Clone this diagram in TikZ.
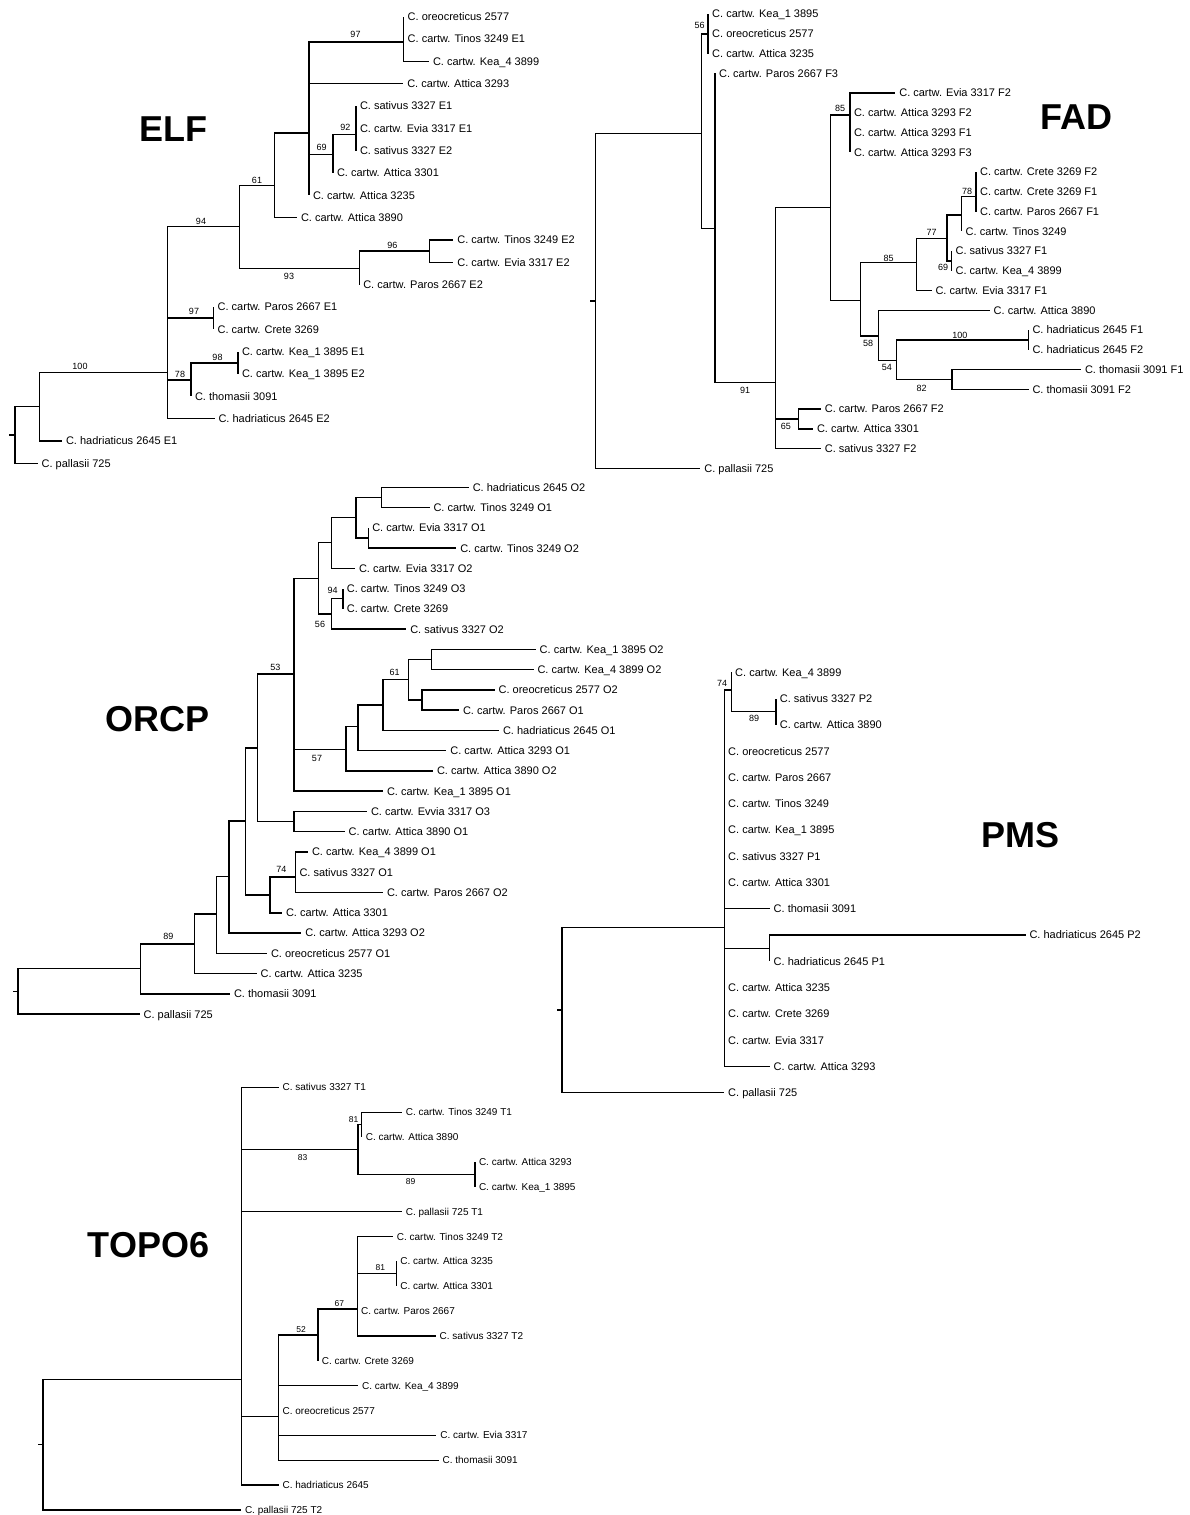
\documentclass[tikz,border=0pt]{standalone}
\usepackage{fontspec}
\setmainfont{Liberation Sans}
\newcommand\labfont{\fontsize{11}{12}\selectfont}
\newcommand\labfontsm{\fontsize{10}{11}\selectfont}
\newcommand\bsfont{\fontsize{9}{10}\selectfont}
\newcommand\bsfontsm{\fontsize{8.5}{9.5}\selectfont}
\newcommand\ttlfont{\fontsize{36}{40}\selectfont\bfseries}
\tikzset{
  br/.style={line width=1.5pt},
  brt/.style={line width=1.2pt},
  lab/.style={anchor=west, inner xsep=4pt, inner ysep=0pt, outer sep=0pt, text height=7.9pt, text depth=0pt, font=\labfont},
  labsm/.style={lab, text height=7.2pt, font=\labfontsm},
  bs/.style={inner sep=0pt, font=\bsfont},
  bssm/.style={inner sep=0pt, font=\bsfontsm},
  ttl/.style={inner sep=0pt, font=\ttlfont},
}
\begin{document}
\begin{tikzpicture}[x=1pt,y=-1pt]
\fill[white] (0,0) rectangle (1189,1515);
\useasboundingbox (0,0) rectangle (1189,1515);

% ================= ELF =================
\node[ttl] (tELF) at (173.5,129.5) {ELF};
\coordinate (eR) at (15,435);
\coordinate (eRt) at (9.4,435);
\coordinate (e100) at (39.5,406.7);
\coordinate (eM) at (167.4,372.7);
\coordinate (e94) at (239.3,226.7);
\coordinate (e61) at (274.6,185.7);
\coordinate (eC) at (309,133);
\coordinate (e97) at (403.7,42);
\coordinate (e69) at (333,154.3);
\coordinate (e92) at (356,134.3);
\coordinate (e93) at (359.3,268.3);
\coordinate (e96) at (429.3,251.2);
\coordinate (e97b) at (213.7,318.2);
\coordinate (e78) at (191,379.8);
\coordinate (e98) at (238,362.8);
\node[lab] (eT0) at (403.7,16.7) {C. oreocreticus 2577};
\node[lab] (eT1) at (403.7,39.0) {C. cartw. Tinos 3249 E1};
\node[lab] (eT2) at (429,61.4) {C. cartw. Kea\_4 3899};
\node[lab] (eT3) at (403.3,83.7) {C. cartw. Attica 3293};
\node[lab] (eT4) at (356,106.0) {C. sativus 3327 E1};
\node[lab] (eT5) at (356,128.4) {C. cartw. Evia 3317 E1};
\node[lab] (eT6) at (356,150.7) {C. sativus 3327 E2};
\node[lab] (eT7) at (333,173.0) {C. cartw. Attica 3301};
\node[lab] (eT8) at (309,195.3) {C. cartw. Attica 3235};
\node[lab] (eT9) at (297,217.7) {C. cartw. Attica 3890};
\node[lab] (eT10) at (453.4,240.0) {C. cartw. Tinos 3249 E2};
\node[lab] (eT11) at (453.4,262.3) {C. cartw. Evia 3317 E2};
\node[lab] (eT12) at (359.3,284.7) {C. cartw. Paros 2667 E2};
\node[lab] (eT13) at (213.7,307.0) {C. cartw. Paros 2667 E1};
\node[lab] (eT14) at (213.7,329.3) {C. cartw. Crete 3269};
\node[lab] (eT15) at (238,351.7) {C. cartw. Kea\_1 3895 E1};
\node[lab] (eT16) at (238,374.0) {C. cartw. Kea\_1 3895 E2};
\node[lab] (eT17) at (191,396.3) {C. thomasii 3091};
\node[lab] (eT18) at (214.5,418.7) {C. hadriaticus 2645 E2};
\node[lab] (eT19) at (62,441.0) {C. hadriaticus 2645 E1};
\node[lab] (eT20) at (37.6,463.3) {C. pallasii 725};
\draw[br] (eR) -- (eRt);
\draw[br] (eR) |- (e100) (eR) |- (eT20.west);
\draw[br] (e100) |- (eM) (e100) |- (eT19.west);
\draw[br] (eM) |- (e94) (eM) |- (e97b) (eM) |- (e78) (eM) |- (eT18.west);
\draw[br] (e94) |- (e61) (e94) |- (e93);
\draw[br] (e61) |- (eC) (e61) |- (eT9.west);
\draw[br] (eC) |- (e97) (eC) |- (eT3.west) (eC) |- (e69) (eC) |- (eT8.west);
\draw[br] (e97) |- (eT0.west) (e97) |- (eT1.west) (e97) |- (eT2.west);
\draw[br] (e69) |- (e92) (e69) |- (eT7.west);
\draw[br] (e92) |- (eT4.west) (e92) |- (eT5.west) (e92) |- (eT6.west);
\draw[br] (e93) |- (e96) (e93) |- (eT12.west);
\draw[br] (e96) |- (eT10.west) (e96) |- (eT11.west);
\draw[br] (e97b) |- (eT13.west) (e97b) |- (eT14.west);
\draw[br] (e78) |- (e98) (e78) |- (eT17.west);
\draw[br] (e98) |- (eT15.west) (e98) |- (eT16.west);
\node[bs] (eb1) at (355.5,34.3) {97};
\node[bs] (eb2) at (345.4,127.7) {92};
\node[bs] (eb3) at (321.7,147.7) {69};
\node[bs] (eb4) at (257,180) {61};
\node[bs] (eb5) at (201,221) {94};
\node[bs] (eb6) at (289,276) {93};
\node[bs] (eb7) at (392.4,245.7) {96};
\node[bs] (eb8) at (194,311.7) {97};
\node[bs] (eb9) at (217.5,357.3) {98};
\node[bs] (eb10) at (180,374) {78};
\node[bs] (eb11) at (80,366.7) {100};

% ================= FAD =================
\node[ttl] (tFAD) at (1076.7,117.5) {FAD};
\coordinate (fR) at (595.5,301);
\coordinate (fRt) at (589.7,301);
\coordinate (fA) at (701.6,133.3);
\coordinate (f56) at (708.2,33.75);
\coordinate (fB) at (715.1,228.3);
\coordinate (f91) at (775.3,382.3);
\coordinate (f65) at (798.3,418.9);
\coordinate (fC) at (830.5,207.3);
\coordinate (f85a) at (850,115);
\coordinate (fD) at (860.4,300.7);
\coordinate (f85b) at (916.3,262.3);
\coordinate (f77) at (947,238.3);
\coordinate (fE) at (961.7,215);
\coordinate (f78) at (976.1,196.7);
\coordinate (f69) at (951.6,260.9);
\coordinate (f58) at (878.3,336);
\coordinate (f54) at (896.5,360.7);
\coordinate (f100) at (1028.5,339.9);
\coordinate (f82) at (952,379.4);
\node[lab] (fT0) at (708.2,14.0) {C. cartw. Kea\_1 3895};
\node[lab] (fT1) at (708.2,33.75) {C. oreocreticus 2577};
\node[lab] (fT2) at (708.2,53.5) {C. cartw. Attica 3235};
\node[lab] (fT3) at (715.1,73.25) {C. cartw. Paros 2667 F3};
\node[lab] (fT4) at (895.3,93.0) {C. cartw. Evia 3317 F2};
\node[lab] (fT5) at (850,112.75) {C. cartw. Attica 3293 F2};
\node[lab] (fT6) at (850,132.5) {C. cartw. Attica 3293 F1};
\node[lab] (fT7) at (850,152.25) {C. cartw. Attica 3293 F3};
\node[lab] (fT8) at (976.1,172.0) {C. cartw. Crete 3269 F2};
\node[lab] (fT9) at (976.1,191.75) {C. cartw. Crete 3269 F1};
\node[lab] (fT10) at (976.1,211.5) {C. cartw. Paros 2667 F1};
\node[lab] (fT11) at (961.7,231.25) {C. cartw. Tinos 3249};
\node[lab] (fT12) at (951.6,251.0) {C. sativus 3327 F1};
\node[lab] (fT13) at (951.6,270.75) {C. cartw. Kea\_4 3899};
\node[lab] (fT14) at (931.5,290.5) {C. cartw. Evia 3317 F1};
\node[lab] (fT15) at (989.7,310.25) {C. cartw. Attica 3890};
\node[lab] (fT16) at (1028.5,330.0) {C. hadriaticus 2645 F1};
\node[lab] (fT17) at (1028.5,349.75) {C. hadriaticus 2645 F2};
\node[lab] (fT18) at (1081,369.5) {C. thomasii 3091 F1};
\node[lab] (fT19) at (1028.5,389.25) {C. thomasii 3091 F2};
\node[lab] (fT20) at (820.8,409.0) {C. cartw. Paros 2667 F2};
\node[lab] (fT21) at (813,428.75) {C. cartw. Attica 3301};
\node[lab] (fT22) at (820.8,448.5) {C. sativus 3327 F2};
\node[lab] (fT23) at (700.4,468.25) {C. pallasii 725};
\draw[br] (fR) -- (fRt);
\draw[br] (fR) |- (fA) (fR) |- (fT23.west);
\draw[br] (fA) |- (f56) (fA) |- (fB);
\draw[br] (f56) |- (fT0.west) (f56) |- (fT1.west) (f56) |- (fT2.west);
\draw[br] (fB) |- (fT3.west) (fB) |- (f91);
\draw[br] (f91) |- (fC) (f91) |- (f65) (f91) |- (fT22.west);
\draw[br] (f65) |- (fT20.west) (f65) |- (fT21.west);
\draw[br] (fC) |- (f85a) (fC) |- (fD);
\draw[br] (f85a) |- (fT4.west) (f85a) |- (fT5.west) (f85a) |- (fT6.west) (f85a) |- (fT7.west);
\draw[br] (fD) |- (f85b) (fD) |- (f58);
\draw[br] (f85b) |- (f77) (f85b) |- (fT14.west);
\draw[br] (f77) |- (fE) (f77) |- (f69);
\draw[br] (fE) |- (f78) (fE) |- (fT11.west);
\draw[br] (f78) |- (fT8.west) (f78) |- (fT9.west) (f78) |- (fT10.west);
\draw[br] (f69) |- (fT12.west) (f69) |- (fT13.west);
\draw[br] (f58) |- (fT15.west) (f58) |- (f54);
\draw[br] (f54) |- (f100) (f54) |- (f82);
\draw[br] (f100) |- (fT16.west) (f100) |- (fT17.west);
\draw[br] (f82) |- (fT18.west) (f82) |- (fT19.west);
\node[bs] (fb1) at (699.6,25) {56};
\node[bs] (fb2) at (840,108.7) {85};
\node[bs] (fb3) at (967.2,191.7) {78};
\node[bs] (fb4) at (931.5,232.3) {77};
\node[bs] (fb5) at (888.7,258.3) {85};
\node[bs] (fb6) at (943.1,267.7) {69};
\node[bs] (fb7) at (868.2,343.3) {58};
\node[bs] (fb8) at (886.8,367.3) {54};
\node[bs] (fb9) at (959.8,335) {100};
\node[bs] (fb10) at (921.7,388.7) {82};
\node[bs] (fb11) at (745,390) {91};
\node[bs] (fb12) at (785.8,426.7) {65};

% ================= ORCP =================
\node[ttl] (tORCP) at (157.8,719) {ORCP};
\coordinate (oR) at (17.9,991.4);
\coordinate (oRt) at (12.5,991.4);
\coordinate (ow) at (140.6,968.7);
\coordinate (ov) at (194.6,944);
\coordinate (ou) at (216.5,914);
\coordinate (ot) at (229,876.5);
\coordinate (oq) at (245.5,821.2);
\coordinate (oo) at (257.6,748);
\coordinate (onr) at (270,894.9);
\coordinate (os) at (295.5,877);
\coordinate (oh) at (293.8,674);
\coordinate (op) at (293.8,821.6);
\coordinate (og) at (318.3,578.3);
\coordinate (od) at (331.3,542.7);
\coordinate (oc) at (355.8,517.7);
\coordinate (oa) at (381.7,497.4);
\coordinate (ob) at (368.3,538);
\coordinate (onf) at (331.3,614);
\coordinate (oe) at (342.9,598.7);
\coordinate (oi) at (346,749.3);
\coordinate (oj) at (358,726.7);
\coordinate (ok) at (383,705);
\coordinate (ol) at (408.5,679.6);
\coordinate (om) at (431.3,659.5);
\coordinate (on) at (421.9,700);
\node[lab] (oT0) at (468.8,487.3) {C. hadriaticus 2645 O2};
\node[lab] (oT1) at (429.5,507.56) {C. cartw. Tinos 3249 O1};
\node[lab] (oT2) at (368.3,527.82) {C. cartw. Evia 3317 O1};
\node[lab] (oT3) at (456.3,548.08) {C. cartw. Tinos 3249 O2};
\node[lab] (oT4) at (355,568.34) {C. cartw. Evia 3317 O2};
\node[lab] (oT5) at (342.9,588.6) {C. cartw. Tinos 3249 O3};
\node[lab] (oT6) at (342.9,608.86) {C. cartw. Crete 3269};
\node[lab] (oT7) at (406.3,629.12) {C. sativus 3327 O2};
\node[lab] (oT8) at (535.7,649.38) {C. cartw. Kea\_1 3895 O2};
\node[lab] (oT9) at (533.5,669.64) {C. cartw. Kea\_4 3899 O2};
\node[lab] (oT10) at (494.6,689.9) {C. oreocreticus 2577 O2};
\node[lab] (oT11) at (459,710.16) {C. cartw. Paros 2667 O1};
\node[lab] (oT12) at (499,730.42) {C. hadriaticus 2645 O1};
\node[lab] (oT13) at (446.4,750.68) {C. cartw. Attica 3293 O1};
\node[lab] (oT14) at (433,770.94) {C. cartw. Attica 3890 O2};
\node[lab] (oT15) at (383,791.2) {C. cartw. Kea\_1 3895 O1};
\node[lab] (oT16) at (367,811.46) {C. cartw. Evvia 3317 O3};
\node[lab] (oT17) at (344.6,831.72) {C. cartw. Attica 3890 O1};
\node[lab] (oT18) at (308,851.98) {C. cartw. Kea\_4 3899 O1};
\node[lab] (oT19) at (295.5,872.24) {C. sativus 3327 O1};
\node[lab] (oT20) at (383,892.5) {C. cartw. Paros 2667 O2};
\node[lab] (oT21) at (282,912.76) {C. cartw. Attica 3301};
\node[lab] (oT22) at (301.3,933.02) {C. cartw. Attica 3293 O2};
\node[lab] (oT23) at (267,953.28) {C. oreocreticus 2577 O1};
\node[lab] (oT24) at (256.7,973.54) {C. cartw. Attica 3235};
\node[lab] (oT25) at (230,993.8) {C. thomasii 3091};
\node[lab] (oT26) at (139.7,1014.06) {C. pallasii 725};
\draw[br] (oR) -- (oRt);
\draw[br] (oR) |- (ow) (oR) |- (oT26.west);
\draw[br] (ow) |- (ov) (ow) |- (oT25.west);
\draw[br] (ov) |- (ou) (ov) |- (oT24.west);
\draw[br] (ou) |- (ot) (ou) |- (oT23.west);
\draw[br] (ot) |- (oq) (ot) |- (oT22.west);
\draw[br] (oq) |- (oo) (oq) |- (onr);
\draw[br] (onr) |- (os) (onr) |- (oT21.west);
\draw[br] (os) |- (oT18.west) (os) |- (oT19.west) (os) |- (oT20.west);
\draw[br] (oo) |- (oh) (oo) |- (op);
\draw[br] (op) |- (oT16.west) (op) |- (oT17.west);
\draw[br] (oh) |- (og) (oh) |- (oi) (oh) |- (oT15.west);
\draw[br] (og) |- (od) (og) |- (onf);
\draw[br] (od) |- (oc) (od) |- (oT4.west);
\draw[br] (oc) |- (oa) (oc) |- (ob);
\draw[br] (oa) |- (oT0.west) (oa) |- (oT1.west);
\draw[br] (ob) |- (oT2.west) (ob) |- (oT3.west);
\draw[br] (onf) |- (oe) (onf) |- (oT7.west);
\draw[br] (oe) |- (oT5.west) (oe) |- (oT6.west);
\draw[br] (oi) |- (oj) (oi) |- (oT14.west);
\draw[br] (oj) |- (ok) (oj) |- (oT13.west);
\draw[br] (ok) |- (ol) (ok) |- (oT12.west);
\draw[br] (ol) |- (om) (ol) |- (on);
\draw[br] (om) |- (oT8.west) (om) |- (oT9.west);
\draw[br] (on) |- (oT10.west) (on) |- (oT11.west);
\node[bs] (ob1) at (332.6,590) {94};
\node[bs] (ob2) at (320,624) {56};
\node[bs] (ob3) at (275.4,667.3) {53};
\node[bs] (ob4) at (394.6,672.3) {61};
\node[bs] (ob5) at (317,758.3) {57};
\node[bs] (ob6) at (281.3,869) {74};
\node[bs] (ob7) at (168.3,936.7) {89};

% ================= PMS =================
\node[ttl] (tPMS) at (1020.7,834.7) {PMS};
\coordinate (pR) at (561.9,1010);
\coordinate (pRt) at (556.6,1010);
\coordinate (pM) at (724.2,927.3);
\coordinate (p74) at (731.2,690);
\coordinate (p89) at (775.9,711.7);
\coordinate (pH) at (769.7,948.1);
\node[lab] (pT0) at (731.2,672.3) {C. cartw. Kea\_4 3899};
\node[lab] (pT1) at (775.9,698.57) {C. sativus 3327 P2};
\node[lab] (pT2) at (775.9,724.84) {C. cartw. Attica 3890};
\node[lab] (pT3) at (724.2,751.11) {C. oreocreticus 2577};
\node[lab] (pT4) at (724.2,777.38) {C. cartw. Paros 2667};
\node[lab] (pT5) at (724.2,803.65) {C. cartw. Tinos 3249};
\node[lab] (pT6) at (724.2,829.92) {C. cartw. Kea\_1 3895};
\node[lab] (pT7) at (724.2,856.19) {C. sativus 3327 P1};
\node[lab] (pT8) at (724.2,882.46) {C. cartw. Attica 3301};
\node[lab] (pT9) at (769.7,908.73) {C. thomasii 3091};
\node[lab] (pT10) at (1025.5,935.0) {C. hadriaticus 2645 P2};
\node[lab] (pT11) at (769.7,961.27) {C. hadriaticus 2645 P1};
\node[lab] (pT12) at (724.2,987.54) {C. cartw. Attica 3235};
\node[lab] (pT13) at (724.2,1013.81) {C. cartw. Crete 3269};
\node[lab] (pT14) at (724.2,1040.08) {C. cartw. Evia 3317};
\node[lab] (pT15) at (769.7,1066.35) {C. cartw. Attica 3293};
\node[lab] (pT16) at (724.2,1092.62) {C. pallasii 725};
\draw[brt] (pR) -- (pRt);
\draw[brt] (pR) |- (pM) (pR) |- (pT16.west);
\draw[brt] (pM) |- (p74) (pM) |- (pT3.west) (pM) |- (pT4.west) (pM) |- (pT5.west)
  (pM) |- (pT6.west) (pM) |- (pT7.west) (pM) |- (pT8.west) (pM) |- (pT9.west)
  (pM) |- (pH) (pM) |- (pT12.west) (pM) |- (pT13.west) (pM) |- (pT14.west) (pM) |- (pT15.west);
\draw[brt] (p74) |- (pT0.west) (p74) |- (p89);
\draw[brt] (p89) |- (pT1.west) (p89) |- (pT2.west);
\draw[brt] (pH) |- (pT10.west) (pH) |- (pT11.west);
\node[bs] (pb1) at (722.1,683.3) {74};
\node[bs] (pb2) at (754,718.3) {89};

% ================= TOPO6 =================
\node[ttl] (tTOPO) at (148.4,1244.7) {TOPO6};
\coordinate (tR) at (42.9,1444.6);
\coordinate (tRt) at (37.5,1444.6);
\coordinate (tM) at (241.8,1379.3);
\coordinate (t83) at (357.9,1149.5);
\coordinate (t81a) at (361.8,1124.6);
\coordinate (t89) at (475,1174.3);
\coordinate (tX) at (278.6,1416.7);
\coordinate (t52) at (317.9,1335);
\coordinate (t67) at (357.1,1309);
\coordinate (t81b) at (396.4,1273.75);
\node[labsm] (tT0) at (278.6,1087.3) {C. sativus 3327 T1};
\node[labsm] (tT1) at (401.8,1112.16) {C. cartw. Tinos 3249 T1};
\node[labsm] (tT2) at (361.8,1137.02) {C. cartw. Attica 3890};
\node[labsm] (tT3) at (475,1161.88) {C. cartw. Attica 3293};
\node[labsm] (tT4) at (475,1186.74) {C. cartw. Kea\_1 3895};
\node[labsm] (tT5) at (401.8,1211.6) {C. pallasii 725 T1};
\node[labsm] (tT6) at (392.9,1236.46) {C. cartw. Tinos 3249 T2};
\node[labsm] (tT7) at (396.4,1261.32) {C. cartw. Attica 3235};
\node[labsm] (tT8) at (396.4,1286.18) {C. cartw. Attica 3301};
\node[labsm] (tT9) at (357.1,1311.04) {C. cartw. Paros 2667};
\node[labsm] (tT10) at (435.7,1335.9) {C. sativus 3327 T2};
\node[labsm] (tT11) at (317.9,1360.76) {C. cartw. Crete 3269};
\node[labsm] (tT12) at (358.2,1385.62) {C. cartw. Kea\_4 3899};
\node[labsm] (tT13) at (278.6,1410.48) {C. oreocreticus 2577};
\node[labsm] (tT14) at (436.4,1435.34) {C. cartw. Evia 3317};
\node[labsm] (tT15) at (438.6,1460.2) {C. thomasii 3091};
\node[labsm] (tT16) at (278.6,1485.06) {C. hadriaticus 2645};
\node[labsm] (tT17) at (241,1509.92) {C. pallasii 725 T2};
\draw[brt] (tR) -- (tRt);
\draw[brt] (tR) |- (tM) (tR) |- (tT17.west);
\draw[brt] (tM) |- (tT0.west) (tM) |- (t83) (tM) |- (tT5.west) (tM) |- (tX) (tM) |- (tT16.west);
\draw[brt] (t83) |- (t81a) (t83) |- (t89);
\draw[brt] (t81a) |- (tT1.west) (t81a) |- (tT2.west);
\draw[brt] (t89) |- (tT3.west) (t89) |- (tT4.west);
\draw[brt] (tX) |- (t52) (tX) |- (tT12.west) (tX) |- (tT13.west) (tX) |- (tT14.west) (tX) |- (tT15.west);
\draw[brt] (t52) |- (t67) (t52) |- (tT11.west);
\draw[brt] (t67) |- (tT6.west) (t67) |- (t81b) (t67) |- (tT9.west) (t67) |- (tT10.west);
\draw[brt] (t81b) |- (tT7.west) (t81b) |- (tT8.west);
\node[bssm] (tb1) at (353.6,1120) {81};
\node[bssm] (tb2) at (302.5,1157.3) {83};
\node[bssm] (tb3) at (410.7,1181.7) {89};
\node[bssm] (tb4) at (380.4,1267.3) {81};
\node[bssm] (tb5) at (339.3,1303.3) {67};
\node[bssm] (tb6) at (301,1329.3) {52};
\end{tikzpicture}
\end{document}
